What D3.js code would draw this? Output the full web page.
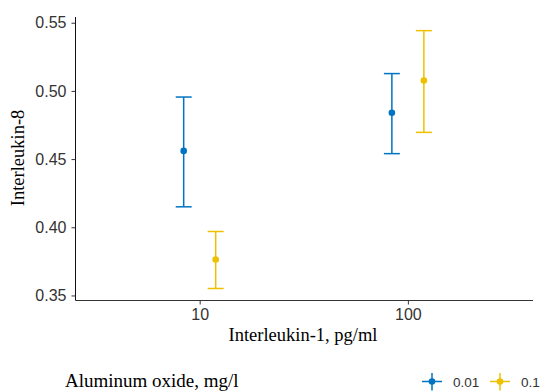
<!DOCTYPE html>
<html>
    <head>
        <title>Interleukin plot</title>
        <meta charset="UTF-8">
        <script type="text/javascript" src="https://cdn.jsdelivr.net/npm/d3@7"></script>
        <style>
            body { margin: 0; background: white; }
        </style>
    </head>
    <body>
        <script type="text/javascript">
            var w = 541, h = 392;

            // data
            var doses = [10, 100];
            var groups = ["0.01", "0.1"];
            var colors = ["#0073C2", "#EFC000"];
            var mean01 = [0.456, 0.484];
            var low01 = [0.415, 0.454];
            var high01 = [0.4955, 0.5127];
            var mean1 = [0.3764, 0.5076];
            var low1 = [0.3551, 0.4696];
            var high1 = [0.3969, 0.5442];
            var yTicks = [0.35, 0.40, 0.45, 0.50, 0.55];
            var xTicks = [10, 100];

            var series = [
                {name: groups[0], color: colors[0], mean: mean01, low: low01, high: high01, dodge: -16},
                {name: groups[1], color: colors[1], mean: mean1, low: low1, high: high1, dodge: 16}
            ];

            var x = d3.scaleLog().domain([Math.pow(10, 0.4035), Math.pow(10, 2.601)]).range([75.5, 533]);
            var y = d3.scaleLinear().domain([0.3463, 0.5542]).range([300.5, 17]);

            var svg = d3.select("body").append("svg")
                    .attr("width", w)
                    .attr("height", h);

            // y axis
            var yAxis = svg.append("g")
                    .attr("transform", "translate(75.5,0)")
                    .call(d3.axisLeft(y).tickValues(yTicks).tickFormat(d3.format(".2f")).tickSize(4).tickPadding(5));
            yAxis.select(".domain").attr("d", "M0," + y.range()[0] + "V" + y.range()[1]).style("stroke", "#111");
            yAxis.selectAll(".tick line").style("stroke", "#333");
            yAxis.selectAll("text")
                    .style("font-family", "'Liberation Sans', Arial, sans-serif")
                    .style("font-size", "16px")
                    .style("fill", "#333");

            // x axis
            var xAxis = svg.append("g")
                    .attr("transform", "translate(0,300.5)")
                    .call(d3.axisBottom(x).tickValues(xTicks).tickFormat(d3.format("d")).tickSize(4).tickPadding(4));
            xAxis.select(".domain").attr("d", "M" + x.range()[0] + ",0H" + x.range()[1]).style("stroke", "#333");
            xAxis.selectAll(".tick line").style("stroke", "#333");
            xAxis.selectAll("text")
                    .style("font-family", "'Liberation Sans', Arial, sans-serif")
                    .style("font-size", "16px")
                    .style("fill", "#333");

            // axis titles
            svg.append("text")
                    .attr("x", 303)
                    .attr("y", 341)
                    .attr("text-anchor", "middle")
                    .style("font-family", "'Liberation Serif', 'Times New Roman', serif")
                    .style("font-size", "18.5px")
                    .text("Interleukin-1, pg/ml");

            svg.append("text")
                    .attr("transform", "translate(24,158) rotate(-90)")
                    .attr("text-anchor", "middle")
                    .style("font-family", "'Liberation Serif', 'Times New Roman', serif")
                    .style("font-size", "18.5px")
                    .text("Interleukin-8");

            // error bars and points
            var cap = 8;
            series.forEach(function(s) {
                var g = svg.append("g");
                doses.forEach(function(d, i) {
                    var cx = x(d) + s.dodge;
                    g.append("line")
                            .attr("x1", cx).attr("x2", cx)
                            .attr("y1", y(s.low[i])).attr("y2", y(s.high[i]))
                            .style("stroke", s.color).style("stroke-width", 1.5);
                    g.append("line")
                            .attr("x1", cx - cap).attr("x2", cx + cap)
                            .attr("y1", y(s.low[i])).attr("y2", y(s.low[i]))
                            .style("stroke", s.color).style("stroke-width", 1.5);
                    g.append("line")
                            .attr("x1", cx - cap).attr("x2", cx + cap)
                            .attr("y1", y(s.high[i])).attr("y2", y(s.high[i]))
                            .style("stroke", s.color).style("stroke-width", 1.5);
                    g.append("circle")
                            .attr("cx", cx).attr("cy", y(s.mean[i]))
                            .attr("r", 3.3)
                            .style("fill", s.color);
                });
            });

            // legend
            svg.append("text")
                    .attr("x", 65)
                    .attr("y", 387)
                    .style("font-family", "'Liberation Serif', 'Times New Roman', serif")
                    .style("font-size", "19px")
                    .text("Aluminum oxide, mg/l");

            var keyX = [432, 500];
            series.forEach(function(s, i) {
                var k = svg.append("g").attr("transform", "translate(" + keyX[i] + ",381.5)");
                k.append("line").attr("x1", -10).attr("x2", 10).attr("y1", 0).attr("y2", 0)
                        .style("stroke", s.color).style("stroke-width", 1.5);
                k.append("line").attr("x1", 0).attr("x2", 0).attr("y1", -8.5).attr("y2", 9)
                        .style("stroke", s.color).style("stroke-width", 1.5);
                k.append("circle").attr("r", 3.3).style("fill", s.color);
                k.append("text")
                        .attr("x", 21)
                        .attr("y", 5)
                        .style("font-family", "'Liberation Sans', Arial, sans-serif")
                        .style("font-size", "13.5px")
                        .style("fill", "#333")
                        .text(s.name);
            });
        </script>
    </body>
</html>
